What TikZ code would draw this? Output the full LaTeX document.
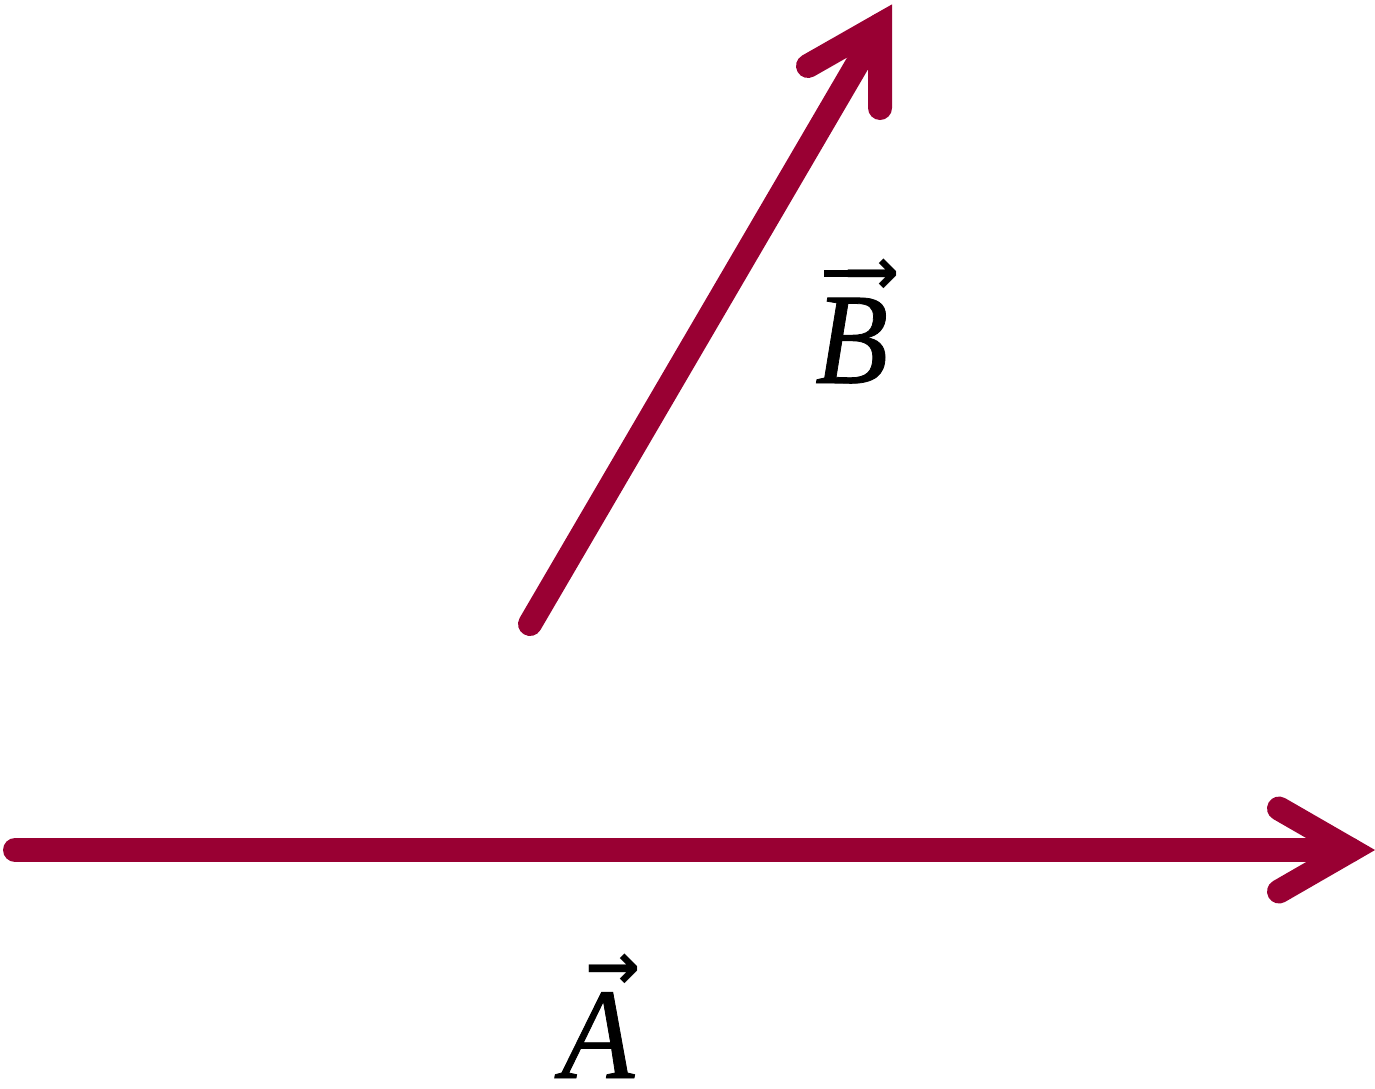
\documentclass[tikz,border=0pt]{standalone}
\usepackage{fontspec}
\newfontfamily\labfont{Liberation Serif}[FakeStretch=0.92, FakeBold=0.6]
\newfontfamily\arrfont{DejaVu Sans}[BoldFont={DejaVu Sans Bold}]
\definecolor{vecred}{RGB}{153,0,51}
\newcommand\vecarrow{{\arrfont\bfseries\fontsize{66}{66}\selectfont →}}
\tikzset{
  vecline/.style={draw=vecred, line width=24pt, line cap=round},
  vechead/.style={draw=vecred, line width=24pt, line cap=round, line join=miter, miter limit=10},
  lab/.style={font=\labfont\itshape\fontsize{130}{130}\selectfont, inner sep=0pt, anchor=base west}
}
\begin{document}
\begin{tikzpicture}[x=1pt,y=-1pt]
\useasboundingbox (0,0) rectangle (1375,1088);
% vector A
\coordinate (A0) at (15,850);
\coordinate (A1) at (1351,850);
\coordinate (Aa) at (1279,808.5);
\coordinate (Ab) at (1279,891.5);
\draw[vecline] (A0) -- (A1);
\draw[vechead] (Aa) -- (A1) -- (Ab);
% vector B
\coordinate (B0) at (530,624);
\coordinate (B1) at (880,25);
\coordinate (Ba) at (808,66);
\coordinate (Bb) at (880,108);
\draw[vecline] (B0) -- (B1);
\draw[vechead] (Ba) -- (B1) -- (Bb);
% labels
\node[lab] (labA) at (561,1078)
  {\rlap{\kern24pt\raisebox{89pt}{\vecarrow}}A};
\node[lab] (labB) at (815,383)
  {\rlap{\kern9pt\raisebox{89pt}{\rule[17pt]{30pt}{7pt}\kern-10pt\vecarrow}}B};
\end{tikzpicture}
\end{document}
